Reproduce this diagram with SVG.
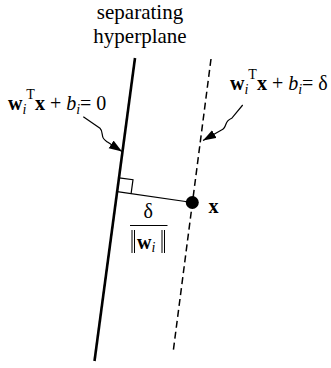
<svg xmlns="http://www.w3.org/2000/svg" width="331" height="368" viewBox="0 0 331 368">
<style>
text{font-family:"Liberation Serif","Times New Roman",serif;fill:#000}
.lbl{font-size:21px;text-anchor:middle}
.eq{font-size:20px}
.b{font-weight:bold}
.it{font-style:italic}
.sub{font-size:14px;font-style:italic}
.sup{font-size:14px}
.call{fill:none;stroke:#000;stroke-width:1.2;marker-end:url(#ah)}
.bar{stroke:#000;stroke-width:1}
</style>
<defs>
<marker id="ah" markerUnits="userSpaceOnUse" markerWidth="14" markerHeight="10" refX="13" refY="4.5" orient="auto">
<path d="M0,0 L13,4.5 L0,9 Z" fill="#000"/>
</marker>
</defs>
<g id="title">
<text class="lbl" x="140" y="19">separating</text>
<text class="lbl" x="140" y="43">hyperplane</text>
</g>
<g id="hyperplane">
<line x1="135" y1="58" x2="94.5" y2="361" stroke="#000" stroke-width="2.6"/>
</g>
<g id="margin-plane">
<line x1="211" y1="59" x2="173" y2="353" stroke="#000" stroke-width="1.5" stroke-dasharray="7,4"/>
</g>
<g id="eq-left">
<text class="eq" x="8" y="110"><tspan class="b">w</tspan><tspan class="sub" dy="4">i</tspan><tspan class="sup" dy="-15">T</tspan><tspan class="b" dy="11">x</tspan> + <tspan class="it">b</tspan><tspan class="sub" dy="4">i</tspan><tspan dy="-4">= 0</tspan></text>
</g>
<g id="eq-right">
<text class="eq" x="230" y="90"><tspan class="b">w</tspan><tspan class="sub" dy="4">i</tspan><tspan class="sup" dy="-15">T</tspan><tspan class="b" dy="11">x</tspan> + <tspan class="it">b</tspan><tspan class="sub" dy="4">i</tspan><tspan dy="-4">= δ</tspan></text>
</g>
<g id="point">
<circle cx="192.3" cy="202.5" r="6.5" fill="#000"/>
<text class="eq b" x="208.5" y="212.5">x</text>
</g>
<g id="distance">
<text class="eq" x="148.3" y="217.5" text-anchor="middle">δ</text>
<line x1="130" y1="225.5" x2="167.5" y2="225.5" stroke="#000" stroke-width="1"/>
<line class="bar" x1="132" y1="230" x2="132" y2="253"/>
<line class="bar" x1="134.5" y1="230" x2="134.5" y2="253"/>
<text class="eq" x="137" y="248.5"><tspan class="b">w</tspan><tspan class="sub" dy="3">i</tspan></text>
<line class="bar" x1="162" y1="230" x2="162" y2="253"/>
<line class="bar" x1="164.5" y1="230" x2="164.5" y2="253"/>
</g>
<g id="connectors">
<path class="call" d="M83.3,116.7 L100,128.3 C103,131 101.5,136 103.5,138.5 C105,140.5 106,141 107.5,142 L122,151.5"/>
<path class="call" d="M242.7,105 L231.7,118.3 C228,120 227,121 226,124 C225,127 224,129 221.5,130 L203,140.5"/>
<line x1="117.2" y1="191.7" x2="192.3" y2="202.5" stroke="#000" stroke-width="1.2"/>
<polyline points="119.1,177.8 133,179.7 131.1,193.6" fill="none" stroke="#000" stroke-width="1.2"/>
</g>
</svg>
